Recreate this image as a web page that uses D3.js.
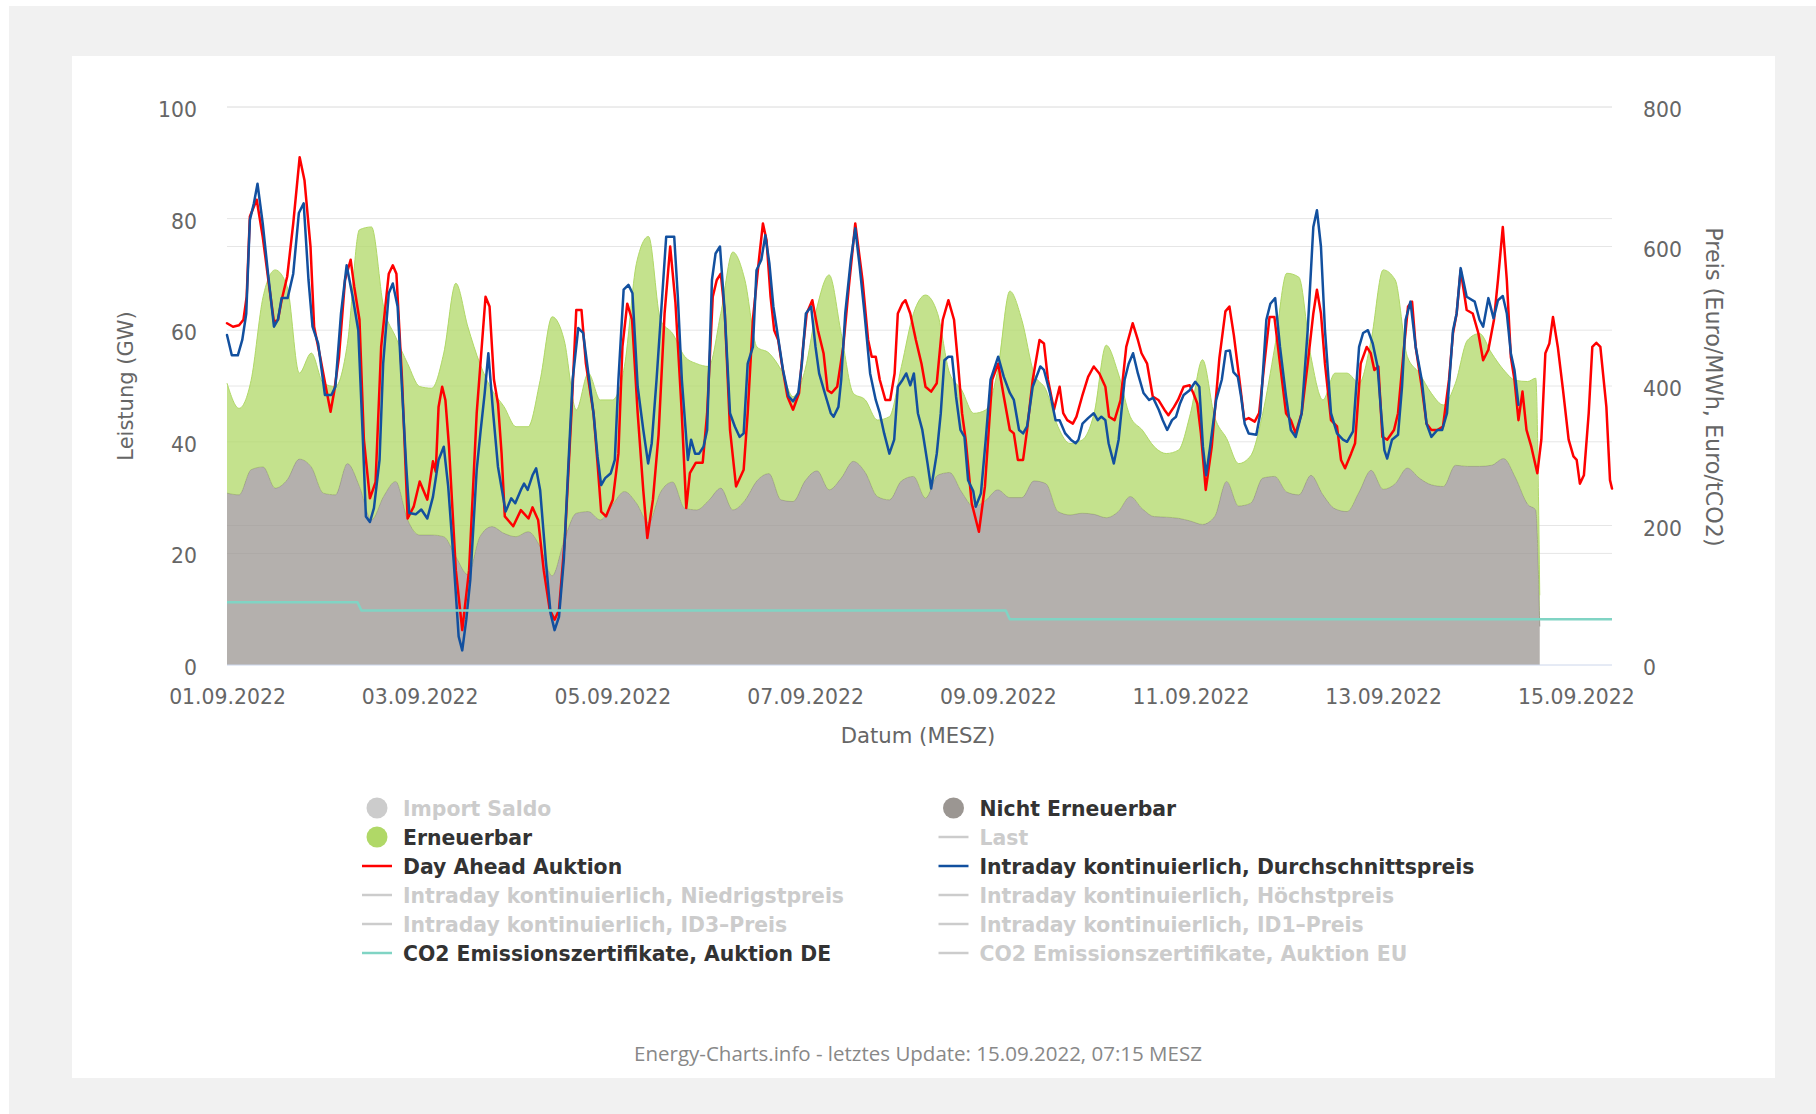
<!DOCTYPE html>
<html><head><meta charset="utf-8">
<script src="https://cdn.jsdelivr.net/npm/d3@7"></script>
<style>html,body{margin:0;padding:0;background:#fff;}svg{display:block}</style>
</head><body>
<svg id="chart" width="1816" height="1114"></svg>
<script>
// ---------------- DATA ----------------
// hours since 01.09.2022 00:00 (MESZ) for the generation areas
const areaHours = [0,3,6,9,12,15,18,21,24,27,30,33,36,39,42,45,48,51,54,57,60,63,66,69,72,75,78,81,84,87,90,93,96,99,102,105,108,111,114,117,120,123,126,129,132,135,138,141,144,147,150,153,156,159,162,165,168,171,174,177,180,183,186,189,192,195,198,201,204,207,210,213,216,219,222,225,228,231,234,237,240,243,246,249,252,255,258,261,264,267,270,273,276,279,282,285,288,291,294,297,300,303,306,309,312,315,318,321,324,326,327];
// Nicht Erneuerbar (GW)
const nichtErneuerbarGW = [30.8,30.5,35.0,35.5,31.7,33.2,36.9,35.5,30.8,30.5,36.1,32.0,26.0,30.2,32.9,26.0,23.3,23.3,23.0,19.4,16.2,23.0,24.8,23.6,23.0,23.9,21.2,16.0,22.4,27.2,27.5,26.0,28.7,31.1,29.0,25.5,31.0,32.8,28.1,27.8,29.5,31.7,27.8,29.5,33.0,34.3,29.6,29.3,33.0,34.8,31.4,33.5,36.5,34.5,30.2,29.6,33.0,33.8,29.9,34.0,34.5,31.0,28.4,29.5,31.4,30.0,30.0,33.0,32.5,27.5,26.9,27.2,27.0,26.4,27.5,30.2,28.0,26.6,26.5,26.3,25.8,25.2,26.6,32.9,28.5,29.0,33.5,33.8,31.0,30.5,34.0,30.5,28.0,27.5,31.0,34.9,31.5,32.5,35.3,33.5,32.3,32.0,35.8,35.6,35.6,35.8,37.0,33.5,28.8,27.8,6.9];
// Erneuerbar (GW)
const erneuerbarGW = [19.7,15.5,16.0,30.5,39.1,34.6,15.4,20.4,19.7,19.4,21.5,46.0,52.5,34.0,25.9,28.0,26.6,26.3,32.9,49.0,44.4,31.0,24.5,22.7,19.7,18.8,29.8,46.4,35.8,18.5,24.8,21.5,18.8,22.4,43.0,51.3,30.8,26.6,27.2,26.2,24.0,31.3,46.2,39.5,24.0,21.6,23.3,18.8,19.9,29.4,38.5,25.9,12.2,13.0,13.7,14.9,20.5,29.2,36.4,29.0,17.8,18.3,16.7,16.2,21.5,37.0,31.8,19.3,16.8,15.2,12.8,13.1,18.1,30.9,24.8,14.3,14.1,12.5,11.4,12.2,19.3,29.5,17.9,7.7,7.6,8.5,11.6,23.2,39.2,39.0,21.3,17.0,24.3,24.8,19.5,23.3,39.3,36.5,20.0,18.8,16.4,14.6,14.7,22.6,23.8,20.1,15.9,17.5,22.0,23.6,5.6];

// Day Ahead Auktion [hour, Euro/MWh]
const dayAheadPoints = [[0,490],[1.5,485],[3,487],[4.1,495],[4.9,528],[5.7,643],[7.4,667],[8.9,614],[10.3,552],[11.7,492],[12.7,495],[13.6,523],[15,557],[16.5,633],[18.1,728],[19.3,695],[20.8,600],[21.7,485],[23.2,442],[24.6,399],[25.8,363],[26.7,392],[27.9,442],[29.4,552],[30.8,581],[31.7,542],[33,495],[34.1,323],[35.6,239],[37,262],[38.4,456],[40.3,561],[41.3,573],[42.2,561],[43.6,409],[45,210],[46.5,227],[48,263],[49.9,237],[51.3,292],[52,277],[52.7,370],[53.6,399],[54.4,380],[55.3,313],[57,136],[58.6,50],[60.3,136],[62.2,361],[62.7,399],[64.4,528],[65.4,514],[66.5,409],[67.5,375],[68.4,303],[69.2,213],[71.3,199],[73.2,222],[75.1,210],[76.1,226],[77.5,208],[78.9,136],[80.4,79],[81.6,65],[82.7,79],[84.2,184],[85.8,361],[87,509],[88.3,509],[89.4,432],[91.3,361],[92.3,289],[93.2,220],[94.4,213],[96.1,237],[97.5,303],[98.5,456],[99.7,518],[100.9,495],[102.3,361],[103.7,250],[104.7,182],[106.1,237],[107.5,330],[109,504],[110.4,600],[111.7,520],[113.2,370],[114.4,225],[115.3,275],[116.8,290],[118.5,290],[119.6,361],[121,528],[122,552],[123,561],[124,504],[125.3,337],[126.8,256],[128.7,280],[129.7,361],[131,495],[132.5,581],[133.5,633],[134.4,609],[135.4,528],[136.3,480],[137.3,466],[138.2,432],[139.6,385],[141,366],[142.5,390],[143.5,456],[144.4,504],[145.8,523],[147.2,480],[148.6,447],[149.6,394],[150.6,390],[152,399],[153.5,456],[154.9,542],[156.5,633],[158.3,552],[159.7,466],[160.6,442],[161.6,442],[162.6,409],[164,380],[165.2,380],[166.3,418],[167.1,504],[168.2,518],[169,523],[170.2,504],[171.6,466],[173,432],[174,399],[175.4,392],[176.8,404],[178.3,495],[179.7,523],[181.1,495],[182.1,432],[183.1,361],[184,323],[185.5,232],[187.3,191],[188.8,256],[190.6,409],[192.1,432],[193.5,385],[195,337],[196,332],[197,294],[198.3,294],[199.3,337],[200.7,409],[202.4,466],[203.5,461],[204.5,409],[206,366],[207.4,399],[208.3,361],[209.3,351],[210.7,346],[211.6,356],[213,385],[214.5,413],[215.9,428],[217.3,418],[218.8,399],[219.7,356],[221.1,351],[222.6,380],[224,456],[225.6,490],[226.9,466],[227.8,447],[229.2,432],[230.6,385],[232,380],[233.5,366],[234.5,358],[235.9,370],[236.9,380],[238.3,399],[239.8,401],[240.7,390],[241.7,375],[242.6,332],[243.8,251],[245.3,313],[247.2,440],[248.7,507],[249.7,514],[250.8,473],[252.3,404],[253.4,351],[254.5,354],[256,349],[257.1,361],[258.4,432],[259.7,499],[260.9,499],[262.3,432],[263.8,361],[265,351],[266.2,332],[267.7,361],[269.2,432],[270.6,504],[271.5,538],[272.5,504],[273.5,432],[275,351],[276.5,342],[277.5,294],[278.5,282],[280,303],[281,318],[282.4,432],[283.9,456],[284.9,447],[285.8,423],[286.8,428],[287.8,327],[289,323],[290.7,337],[291.7,361],[293.2,456],[294.2,514],[295.2,521],[296.1,456],[297.6,399],[298.8,346],[300,337],[301.5,337],[302.9,342],[304.4,409],[305.4,476],[306.3,504],[307.3,566],[308.8,509],[310.3,504],[311.7,476],[312.9,437],[314.2,452],[315.6,495],[316.6,552],[317.8,628],[318.8,552],[319.8,442],[320.7,409],[321.7,351],[322.7,392],[323.7,337],[324.9,313],[326.4,275],[327.4,323],[328.4,447],[329.4,461],[330.3,499],[331.5,456],[332.8,394],[334.2,323],[335.4,299],[336.2,294],[337,260],[338,272],[339.2,361],[340.1,456],[341.1,462],[342.1,456],[343.6,370],[344.5,265],[345,253]];

// Intraday kontinuierlich, Durchschnittspreis [hour, Euro/MWh]
const intradayPoints = [[0,473],[1.2,444],[2.7,444],[3.8,466],[4.8,504],[5.7,638],[6.7,662],[7.6,690],[8.9,633],[10.3,557],[11.7,485],[12.7,495],[13.6,526],[15.1,526],[16.5,561],[17.9,648],[19.1,662],[20.3,552],[21.3,485],[22.7,461],[24.4,387],[26,387],[27,399],[28.4,504],[29.8,573],[31.3,528],[32.7,480],[33.8,330],[34.6,213],[35.6,205],[36.6,225],[38,294],[38.9,432],[40.3,533],[41.3,547],[42.5,514],[43.7,385],[44.6,289],[45.4,218],[47,216],[48.4,223],[49.9,210],[51.3,241],[52.7,294],[54,313],[55.1,256],[56.5,146],[57.7,41],[58.6,21],[59.6,65],[60.6,122],[62.2,280],[63.2,337],[64.2,390],[65.1,447],[66.3,361],[67.5,284],[69.4,220],[70.8,239],[71.8,232],[73.2,251],[74,260],[74.9,251],[76.1,272],[77,282],[78,251],[79.4,151],[80.6,74],[81.6,50],[82.7,69],[83.9,151],[85.1,294],[86.1,409],[87.5,483],[88.7,476],[89.9,423],[91.3,361],[92.3,299],[93.2,258],[94.2,268],[95.6,275],[96.6,294],[97.5,409],[98.8,538],[100,545],[101,533],[102.3,399],[103.7,337],[104.9,289],[105.8,318],[107,409],[108.4,528],[109.4,614],[111.4,614],[112.3,528],[113.3,409],[114.8,294],[115.6,323],[116.6,303],[117.6,303],[118.7,313],[119.6,337],[120.8,552],[121.7,590],[122.8,600],[124,504],[125.3,361],[126.5,342],[127.7,327],[128.7,332],[129.7,432],[131,456],[131.9,566],[133.1,581],[134.1,616],[135.1,576],[136.1,514],[137,480],[138.5,423],[139.9,385],[141,378],[142.3,390],[143.2,432],[144.2,504],[145.5,514],[146.6,456],[147.5,418],[148.9,390],[150.4,361],[151.1,356],[152.3,370],[153,409],[154,504],[155.4,581],[156.5,626],[157.6,571],[158.8,504],[160.2,418],[161.6,380],[162.6,361],[163.7,332],[165,303],[166.2,323],[167.1,399],[168.3,409],[169.2,418],[170.2,401],[171.1,418],[172.1,361],[173.2,337],[174.5,289],[175.4,253],[176.8,303],[177.8,361],[178.7,437],[179.7,442],[180.6,442],[181.6,385],[182.7,337],[183.7,327],[184.6,265],[185.9,249],[186.5,227],[187.8,246],[189,323],[190.2,409],[192.1,442],[193.5,413],[195,390],[196,380],[197.3,337],[198.3,332],[199.3,342],[200.7,399],[202.6,428],[203.5,423],[205,390],[206.4,351],[207.4,351],[208.8,332],[210.2,323],[211.4,318],[212.1,323],[213.1,346],[214.5,354],[215.9,361],[216.9,351],[217.8,356],[218.8,351],[219.6,318],[220.9,289],[222.1,323],[223.6,409],[224.6,432],[225.7,447],[226.9,418],[228.3,390],[229.7,380],[230.7,383],[232.1,366],[233.1,351],[234.2,337],[235.4,351],[236.4,356],[237.4,375],[238.3,387],[239.8,394],[241.2,406],[242.2,399],[243.1,313],[243.9,272],[244.9,313],[246.4,380],[247.8,409],[248.8,450],[249.8,451],[250.7,420],[251.8,413],[252.6,385],[253.5,346],[254.5,332],[256.4,330],[257.4,361],[258.9,495],[259.9,518],[261.1,526],[262.3,456],[263.8,385],[265,337],[266.2,327],[267.7,361],[269.2,480],[270.6,628],[271.5,652],[272.5,600],[273.5,480],[275,361],[276.5,332],[278,323],[279,320],[280.5,335],[282,456],[283,476],[284.2,480],[285.4,461],[286.6,428],[287.5,361],[288.3,308],[289,296],[290.2,323],[291.7,330],[292.7,399],[293.6,495],[294.8,521],[296.1,456],[297.6,409],[298.8,346],[300,327],[301.5,337],[302.7,337],[303.9,361],[305.4,480],[306.3,504],[307.3,569],[308.8,528],[310.8,521],[312,495],[312.9,485],[314.2,526],[315.5,497],[316.6,523],[317.8,529],[318.8,504],[319.8,447],[320.7,423],[321.7,373]];

// CO2 Emissionszertifikate, Auktion DE (Euro/tCO2)
const co2Hours = [0, 32.5, 33.5, 194, 195, 345];
const co2Prices = [90, 90, 78, 78, 65.5, 65.5];

// axes
const leftTicks = [0, 20, 40, 60, 80, 100];
const rightTicks = [0, 200, 400, 600, 800];
const xTickLabels = ['01.09.2022','03.09.2022','05.09.2022','07.09.2022','09.09.2022','11.09.2022','13.09.2022','15.09.2022'];

// legend
const legendCol1 = [
  {label:'Import Saldo', type:'circle', color:'#cccccc', active:false},
  {label:'Erneuerbar', type:'circle', color:'#b0d867', active:true},
  {label:'Day Ahead Auktion', type:'line', color:'#ff0000', active:true},
  {label:'Intraday kontinuierlich, Niedrigstpreis', type:'line', color:'#cccccc', active:false},
  {label:'Intraday kontinuierlich, ID3\u2013Preis', type:'line', color:'#cccccc', active:false},
  {label:'CO2 Emissionszertifikate, Auktion DE', type:'line', color:'#80d4c4', active:true}
];
const legendCol2 = [
  {label:'Nicht Erneuerbar', type:'circle', color:'#9b9692', active:true},
  {label:'Last', type:'line', color:'#cccccc', active:false},
  {label:'Intraday kontinuierlich, Durchschnittspreis', type:'line', color:'#12509f', active:true},
  {label:'Intraday kontinuierlich, H\u00f6chstpreis', type:'line', color:'#cccccc', active:false},
  {label:'Intraday kontinuierlich, ID1\u2013Preis', type:'line', color:'#cccccc', active:false},
  {label:'CO2 Emissionszertifikate, Auktion EU', type:'line', color:'#cccccc', active:false}
];

// ---------------- CHART ----------------
const FONT = '"DejaVu Sans", sans-serif';
const svg = d3.select('#chart');
svg.append('rect').attr('x',9).attr('y',6).attr('width',1807).attr('height',1108).attr('fill','#f1f1f1');
svg.append('rect').attr('x',72).attr('y',56).attr('width',1703).attr('height',1022).attr('fill','#ffffff');

const plot = {left:227, right:1612, top:107, bottom:665};
const t0 = Date.UTC(2022, 8, 1, 0, 0);
const toDate = h => new Date(t0 + h * 3600000);
const x = d3.scaleUtc().domain([toDate(0), toDate(345)]).range([plot.left, plot.right]);
const yL = d3.scaleLinear().domain([0, 100]).range([plot.bottom, plot.top]);
const yR = d3.scaleLinear().domain([0, 800]).range([plot.bottom, plot.top]);

// gridlines
const grid = svg.append('g');
leftTicks.filter(v => v > 0).forEach(v => {
  grid.append('line').attr('x1',plot.left).attr('x2',plot.right).attr('y1',yL(v)).attr('y2',yL(v))
    .attr('stroke','#e6e6e6').attr('stroke-width',1);
});
rightTicks.filter(v => v > 0).forEach(v => {
  grid.append('line').attr('x1',plot.left).attr('x2',plot.right).attr('y1',yR(v)).attr('y2',yR(v))
    .attr('stroke','#e6e6e6').attr('stroke-width',1);
});

// stacked areas
const rows = areaHours.map((h, i) => ({h, nicht: nichtErneuerbarGW[i], ern: erneuerbarGW[i]}));
const stacked = d3.stack().keys(['nicht', 'ern'])(rows);
const areaGen = d3.area().x(d => x(toDate(d.data.h))).y0(d => yL(d[0])).y1(d => yL(d[1])).curve(d3.curveMonotoneX);
const topGen = d3.line().x(d => x(toDate(d.data.h))).y(d => yL(d[1])).curve(d3.curveMonotoneX);
const areaColors = {nicht:'#9b9692', ern:'#b0d867'};
stacked.forEach(layer => {
  svg.append('path').attr('d', areaGen(layer)).attr('fill', areaColors[layer.key]).attr('fill-opacity', 0.75);
  svg.append('path').attr('d', topGen(layer)).attr('fill','none').attr('stroke', areaColors[layer.key]).attr('stroke-width', 1);
});

// x axis line
svg.append('line').attr('x1',plot.left).attr('x2',plot.right).attr('y1',plot.bottom).attr('y2',plot.bottom)
  .attr('stroke','#ccd6eb').attr('stroke-width',1);

// price lines
const priceLine = d3.line().x(d => x(toDate(d[0]))).y(d => yR(d[1]));
svg.append('path').attr('d', priceLine(dayAheadPoints)).attr('fill','none').attr('stroke','#ff0000')
  .attr('stroke-width',2.5).attr('stroke-linejoin','round').attr('stroke-linecap','round');
svg.append('path').attr('d', priceLine(intradayPoints)).attr('fill','none').attr('stroke','#12509f')
  .attr('stroke-width',2.5).attr('stroke-linejoin','round').attr('stroke-linecap','round');
svg.append('path').attr('d', priceLine(co2Hours.map((h, i) => [h, co2Prices[i]]))).attr('fill','none')
  .attr('stroke','#80d4c4').attr('stroke-width',2.5).attr('stroke-linejoin','round');

// axes labels
function styleAxis(g){
  g.select('.domain').remove();
  g.selectAll('.tick line').remove();
  g.attr('font-family', FONT).attr('font-size', 20.4);
  g.selectAll('text').attr('fill', '#666666');
}
svg.append('g').attr('transform',`translate(${plot.left},0)`)
  .call(d3.axisLeft(yL).tickValues(leftTicks).tickSize(0).tickPadding(30))
  .call(styleAxis).selectAll('text').attr('dy','0.47em');
svg.append('g').attr('transform',`translate(${plot.right},0)`)
  .call(d3.axisRight(yR).tickValues(rightTicks).tickSize(0).tickPadding(31))
  .call(styleAxis).selectAll('text').attr('dy','0.47em');
const parseTick = d3.utcParse('%d.%m.%Y');
const fmtTick = d3.utcFormat('%d.%m.%Y');
svg.append('g').attr('transform',`translate(0,${plot.bottom})`)
  .call(d3.axisBottom(x).tickValues(xTickLabels.map(parseTick)).tickFormat(fmtTick).tickSize(0).tickPadding(25))
  .call(styleAxis);

// axis titles
svg.append('text').attr('transform',`translate(133,386) rotate(-90)`).attr('text-anchor','middle')
  .attr('font-family',FONT).attr('font-size',21).attr('fill','#666666').text('Leistung (GW)');
svg.append('text').attr('transform',`translate(1706,387) rotate(90)`).attr('text-anchor','middle')
  .attr('font-family',FONT).attr('font-size',22.3).attr('fill','#666666').text('Preis (Euro/MWh, Euro/tCO2)');
svg.append('text').attr('x',918).attr('y',743).attr('text-anchor','middle')
  .attr('font-family',FONT).attr('font-size',21.2).attr('fill','#666666').text('Datum (MESZ)');

// legend
const rowY = [808, 837, 866, 895, 924, 953];
function drawLegend(items, symX, textX){
  items.forEach((it, i) => {
    const cy = rowY[i];
    if (it.type === 'circle') {
      svg.append('circle').attr('cx', symX).attr('cy', cy).attr('r', 10.5).attr('fill', it.color);
    } else {
      svg.append('line').attr('x1', symX - 15).attr('x2', symX + 15).attr('y1', cy).attr('y2', cy)
        .attr('stroke', it.color).attr('stroke-width', 2.5);
    }
    svg.append('text').attr('x', textX).attr('y', cy + 7.5)
      .attr('font-family', FONT).attr('font-size', 20.4).attr('font-weight', 'bold')
      .attr('fill', it.active ? '#333333' : '#cccccc').text(it.label);
  });
}
drawLegend(legendCol1, 377, 403);
drawLegend(legendCol2, 953.5, 979.5);

// credits
svg.append('text').attr('x',918).attr('y',1061).attr('text-anchor','middle')
  .attr('font-family','"Open Sans", sans-serif').attr('font-size',20.5).attr('fill','#888888')
  .text('Energy-Charts.info - letztes Update: 15.09.2022, 07:15 MESZ');
</script>
</body></html>
